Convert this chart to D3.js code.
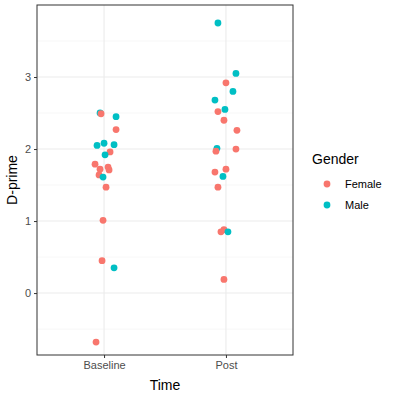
<!DOCTYPE html>
<html><head><meta charset="utf-8">
<script src="https://cdn.jsdelivr.net/npm/d3@7"></script>
<style>body{margin:0;background:#fff}text{font-family:"Liberation Sans",Arial,sans-serif}</style>
</head><body>
<svg id="c" width="400" height="400"></svg>
<script>
// jittered D-prime by time and gender
var times = ["Baseline", "Post"];
var genders = ["Female", "Male"];
var colors = ["#F8766D", "#00BFC4"];
var yTicks = [0, 1, 2, 3];

// [time index, gender index, jitter (px from centre), value]
var pTime = [0,0,0,0,0,0,0,0,0,0,0,0,0,0,0,0,0,0,0,0, 1,1,1,1,1,1,1,1,1,1,1,1,1,1,1,1,1,1,1,1];
var pGender = [1,0,1,0,1,1,1,0,1,0,0,0,0,0,1,0,0,0,1,0, 1,0,1,1,0,1,0,0,1,0,0,0,0,1,0,0,0,1,1,0];
var pJitter = [-4,-3,12,12,-7,0,10,6,1,-9,-4,4,5,-5,-1,2,-1,-2,10,-8,
               10,0,7,-11,-8,-1,-2,11,-9,-10,10,0,-11,-3,-8,-5,-2,2,-8,-2];
var pValue = [2.50,2.49,2.45,2.27,2.05,2.08,2.06,1.96,1.92,1.79,1.72,1.75,1.71,1.64,1.61,1.47,1.01,0.45,0.35,-0.68,
              3.05,2.92,2.80,2.68,2.52,2.55,2.40,2.26,2.01,1.97,2.00,1.72,1.68,1.62,1.47,0.85,0.88,0.85,3.75,0.19];

var L = 37, R = 293, T = 5, B = 355;
var svg = d3.select("#c");
var x = d3.scalePoint().domain(times).range([L, R]).padding(0.55);
var y = d3.scaleLinear().domain([-0.86, 4.0]).range([B, T]);

var grid = svg.append("g");
d3.range(-0.5, 4, 1).forEach(function(v){
  grid.append("line").attr("x1", L).attr("x2", R).attr("y1", y(v)).attr("y2", y(v))
    .attr("stroke", "#f2f2f2").attr("stroke-width", 0.6);
});
yTicks.forEach(function(v){
  grid.append("line").attr("x1", L).attr("x2", R).attr("y1", y(v)).attr("y2", y(v))
    .attr("stroke", "#ebebeb").attr("stroke-width", 1.1);
});
times.forEach(function(t){
  grid.append("line").attr("y1", T).attr("y2", B).attr("x1", x(t)).attr("x2", x(t))
    .attr("stroke", "#ebebeb").attr("stroke-width", 1.1);
});

svg.append("g").selectAll("circle").data(pValue).enter().append("circle")
  .attr("cx", function(d, i){ return x(times[pTime[i]]) + pJitter[i]; })
  .attr("cy", function(d){ return y(d); })
  .attr("r", 3.4)
  .attr("fill", function(d, i){ return colors[pGender[i]]; });

svg.append("rect").attr("x", L).attr("y", T).attr("width", R - L).attr("height", B - T)
  .attr("fill", "none").attr("stroke", "#333").attr("stroke-width", 1);

var ya = svg.append("g").attr("transform", "translate(" + L + ",0)")
  .call(d3.axisLeft(y).tickValues(yTicks).tickSize(3).tickPadding(3).tickFormat(d3.format("d")));
var xa = svg.append("g").attr("transform", "translate(0," + B + ")")
  .call(d3.axisBottom(x).tickSize(3).tickPadding(3));
[ya, xa].forEach(function(a){
  a.select(".domain").remove();
  a.selectAll("line").attr("stroke", "#333");
  a.selectAll("text").attr("fill", "#4d4d4d").style("font-size", "11px");
});

svg.append("text").attr("x", (L + R) / 2).attr("y", 390).attr("text-anchor", "middle")
  .style("font-size", "14px").text("Time");
svg.append("text").attr("transform", "translate(17," + ((T + B) / 2) + ") rotate(-90)")
  .attr("text-anchor", "middle").style("font-size", "14px").text("D-prime");

var lg = svg.append("g");
lg.append("text").attr("x", 312).attr("y", 164).style("font-size", "14px").text("Gender");
genders.forEach(function(g, i){
  lg.append("circle").attr("cx", 327).attr("cy", 184 + i * 21).attr("r", 3.4).attr("fill", colors[i]);
  lg.append("text").attr("x", 345).attr("y", 188 + i * 21).style("font-size", "11px").text(g);
});
</script>
</body></html>
